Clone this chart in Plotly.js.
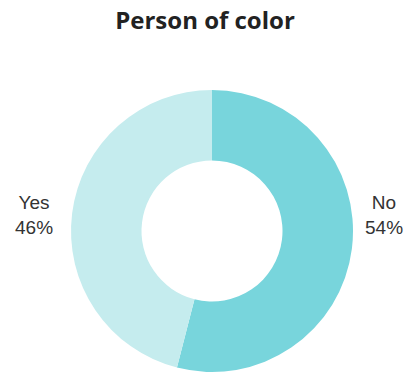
<!DOCTYPE html>
<html><head><meta charset="utf-8">
<script src="https://cdn.plot.ly/plotly-3.0.1.min.js"></script>
<style>html,body{margin:0;padding:0;background:#fff;}#chart{width:410px;height:373px;}</style>
</head><body><div id="chart"></div>
<script>
const labels = ["No", "Yes"];
const values = [54, 46];
const colors = ["#78d5dc", "#c5ecee"];
const labelX = [0.9366, 0.083];

const total = values.reduce((a, b) => a + b, 0);
const annotations = labels.map((l, i) => ({
  text: l + "<br>" + Math.round(values[i] / total * 100) + "%",
  x: labelX[i], y: 0.4236, xref: "paper", yref: "paper",
  xanchor: "center", yanchor: "middle", showarrow: false, align: "center",
  font: {family: "Liberation Sans, Arial, sans-serif", size: 19, color: "#333"}
}));

Plotly.newPlot("chart", [{
  type: "pie",
  labels: labels,
  values: values,
  hole: 0.5,
  sort: false,
  direction: "clockwise",
  rotation: 0,
  marker: {colors: colors, line: {width: 0}},
  textinfo: "none",
  domain: {x: [0.1732, 0.861], y: [0.0027, 0.7587]},
  showlegend: false,
  hoverinfo: "none"
}], {
  width: 410, height: 373,
  margin: {l: 0, r: 0, t: 0, b: 0},
  paper_bgcolor: "#fff",
  title: {text: "<b>Person of color</b>", x: 0.5, xanchor: "center", y: 0.945, yanchor: "middle",
    font: {family: "Open Sans, sans-serif", size: 24, color: "#222"}},
  annotations: annotations,
  showlegend: false
}, {displayModeBar: false, staticPlot: true});
</script></body></html>
